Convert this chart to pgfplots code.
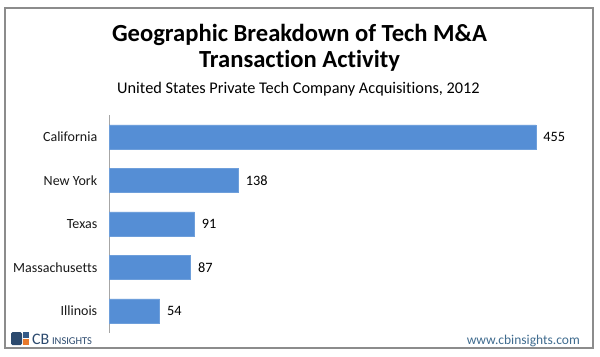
\documentclass[border=0pt]{standalone}
\usepackage{pgfplots}
\pgfplotsset{compat=1.18}
\usepackage{fontspec}
\setmainfont{Carlito}[Ligatures={NoCommon}]
\definecolor{barblue}{RGB}{85,142,213}
\definecolor{framegrey}{RGB}{140,140,140}
\definecolor{axgrey}{RGB}{166,166,166}
\definecolor{navy}{RGB}{44,74,110}
\definecolor{logoorange}{RGB}{232,121,43}
\definecolor{logoblue}{RGB}{52,90,135}
\definecolor{urlblue}{RGB}{64,108,143}
\begin{document}
\begin{tikzpicture}[x=1bp,y=1bp]
\path[fill=white] (0,0) rectangle (600,356);
\draw[framegrey, line width=2bp] (5,8) rectangle (593,348);
% titles
\node[anchor=base, inner sep=0pt] at (299.5,315) {\fontsize{24.6bp}{27bp}\selectfont\bfseries Geographic Breakdown of Tech M\&A};
\node[anchor=base, inner sep=0pt] at (299.5,288.5) {\fontsize{24.6bp}{27bp}\selectfont\bfseries Transaction Activity};
\node[anchor=base, inner sep=0pt] at (298.5,263) {\fontsize{16.3bp}{19bp}\selectfont United States Private Tech Company Acquisitions, 2012};
\begin{axis}[
  at={(109bp,23.5bp)}, anchor=south west,
  scale only axis, width=469bp, height=217.5bp,
  xbar, bar width=24bp,
  xmin=0, xmax=500,
  ymin=-0.5, ymax=4.5,
  y dir=reverse,
  axis lines*=left,
  x axis line style={draw=none},
  y axis line style={draw=axgrey, line width=0.8bp},
  xtick=\empty,
  ytick={0,1,2,3,4},
  yticklabels={California,New York,Texas,Massachusetts,Illinois},
  ytick style={draw=none},
  yticklabel style={font=\fontsize{14bp}{16bp}\selectfont, text=black!90, xshift=-4bp},
  /pgf/number format/assume math mode=true,
  nodes near coords,
  nodes near coords style={font=\fontsize{14.3bp}{16bp}\selectfont, text=black, anchor=west, xshift=4bp},
  clip=false,
]
\addplot[fill=barblue, draw=barblue!85!white] coordinates {(455,0) (138,1) (91,2) (87,3) (54,4)};
\end{axis}
% footer logo
\fill[navy, rounded corners=1.5bp] (11,11) rectangle (22,24);
\fill[logoblue] (23,18) rectangle (29,24);
\fill[logoorange] (23,11) rectangle (29,17);
\node[anchor=base west, inner sep=0pt, text=navy] at (32,12) {\fontsize{16bp}{18bp}\selectfont CB\,\fontsize{10.5bp}{12bp}\selectfont INSIGHTS};
\node[anchor=base east, inner sep=0pt, text=urlblue] at (580,12) {\fontsize{13.5bp}{16bp}\selectfont www.cbinsights.com};
\end{tikzpicture}
\end{document}
